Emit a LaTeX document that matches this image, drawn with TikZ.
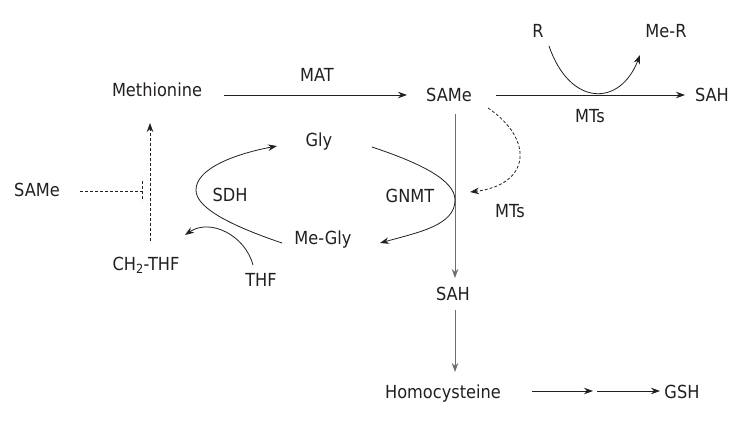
\documentclass[tikz,border=0pt]{standalone}
\usepackage{fontspec}
\setmainfont{DejaVu Sans}[FakeStretch=0.9]
\usetikzlibrary{arrows.meta}
\definecolor{ink}{HTML}{231F20}
\tikzset{
  lbl/.style={anchor=base, inner sep=0pt, text=ink, font=\fontsize{18}{20}\selectfont},
  conn/.style={draw=ink, line width=0.8pt},
  arr/.style={conn, -{Stealth[length=9pt,width=6.5pt]}},
  grayarr/.style={arr, draw=ink!65},
  dsh/.style={dash pattern=on 3pt off 2pt}
}
\begin{document}
\begin{tikzpicture}[x=1pt,y=-1pt]
\useasboundingbox (0,0) rectangle (756,425);
% nodes
\node[lbl] (meth)  at (157,97)  {Methionine};
\node[lbl] (mat)   at (317,82)  {MAT};
\node[lbl] (samet) at (449,102) {SAMe};
\node[lbl] (saht)  at (712,102) {SAH};
\node[lbl] (r)     at (538,38)  {R};
\node[lbl] (mer)   at (666,38)  {Me-R};
\node[lbl] (mtsa)  at (590,123) {MTs};
\node[lbl] (gnmt)  at (410,203) {GNMT};
\node[lbl] (mtsb)  at (510,218) {MTs};
\node[lbl] (gly)   at (319,147) {Gly};
\node[lbl] (sdh)   at (230,202) {SDH};
\node[lbl] (samel) at (37,197)  {SAMe};
\node[lbl] (megly) at (323,245) {Me-Gly};
\node[lbl] (ch)    at (146,270) {CH\textsubscript{2}-THF};
\node[lbl] (thf)   at (261,287) {THF};
\node[lbl] (sahm)  at (453,301) {SAH};
\node[lbl] (hcy)   at (443,398) {Homocysteine};
\node[lbl] (gsh)   at (682,398) {GSH};
\coordinate (mid) at (595,391);
\coordinate (inh) at (142,191);
% connectors
\draw[arr] ([xshift=67pt,yshift=2pt]meth.base) -- ([xshift=-42pt,yshift=7pt]samet.base);
\draw[arr] ([xshift=47pt,yshift=7pt]samet.base) -- ([xshift=-27pt,yshift=7pt]saht.base);
\draw[arr] ([xshift=11pt,yshift=-8pt]r.base) .. controls (570,107) and (620,107) .. ([xshift=-26pt,yshift=-17pt]mer.base);
\draw[grayarr] ([xshift=6pt,yshift=-12pt]samet.base) -- ([xshift=2pt,yshift=23pt]sahm.base);
\draw[grayarr] ([xshift=2pt,yshift=-9pt]sahm.base) -- ([xshift=12pt,yshift=26pt]hcy.base);
\draw[arr] ([xshift=89pt,yshift=7pt]hcy.base) -- ([xshift=-2pt]mid);
\draw[arr] ([xshift=2pt]mid) -- ([xshift=-22pt,yshift=7pt]gsh.base);
\draw[arr, dsh] ([xshift=39pt,yshift=-6pt]samet.base) .. controls (535,140) and (530,185) .. ([xshift=60pt,yshift=11pt]gnmt.base);
\draw[arr] ([xshift=53pt]gly.base) .. controls (420,163) and (455,180) .. (455,200)
  .. controls (455,225) and (420,232) .. ([xshift=57pt,yshift=2pt]megly.base);
\draw[arr] ([xshift=-41pt,yshift=2pt]megly.base) .. controls (220,222) and (196,205) .. (196,190)
  .. controls (196,170) and (230,155) .. ([xshift=-42pt,yshift=1pt]gly.base);
\draw[arr] ([xshift=-8pt,yshift=22pt]thf.base) .. controls (245,235) and (210,218) .. ([xshift=39pt,yshift=35pt]ch.base);
\draw[arr, dsh] ([xshift=4pt,yshift=29pt]ch.base) -- ([xshift=-7pt,yshift=-26pt]meth.base);
\draw[conn, dsh] ([xshift=43pt,yshift=6pt]samel.base) -- (inh);
\draw[conn, dsh] ([yshift=10pt]inh) -- ([yshift=-10pt]inh);
\end{tikzpicture}
\end{document}
